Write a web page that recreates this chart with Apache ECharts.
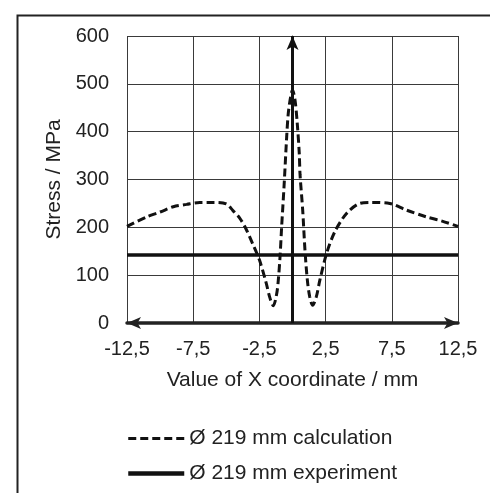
<!DOCTYPE html>
<html>
<head>
<meta charset="utf-8">
<script src="https://cdn.jsdelivr.net/npm/echarts@6/dist/echarts.min.js"></script>
<style>html,body{margin:0;padding:0;background:#fff}#c{width:490px;height:493px}</style>
</head>
<body>
<div id="c"></div>
<script>
// Calculation curve (dashed)
const calcX = [-12.5,-11,-10,-9,-8,-7,-6,-5,-4.5,-4,-3.5,-3,-2.5,-2,-1.7,-1.45,-1.2,-1.07,-0.94,-0.82,-0.64,-0.44,-0.32,-0.14,0,0.19,0.36,0.51,0.57,0.77,0.94,1.12,1.3,1.52,1.8,2.07,2.58,3.2,4.08,5.09,6,7.35,8.6,10.1,11.3,12.5];
const calcY = [202,222,232,243,248,252,252,249,235,220,196,165,132,85,52,36,60,90,139,201,285,389,438,473,487,466,417,355,310,236,153,90,55,37,55,90,146,191,229,250,252,250,236,222,213,202];
// Experiment (solid): horizontal level and vertical marker at x = 0
const expX = [-12.5, 12.5];
const expY = [142, 142];
const expMarkX = [0, 0];
const expMarkY = [0, 600];
const xTicks = [-12.5,-7.5,-2.5,2.5,7.5,12.5];
const yTicks = [0,100,200,300,400,500,600];
const seriesNames = ['Ø 219 mm calculation', 'Ø 219 mm experiment'];

const font = 'Liberation Sans, Arial, sans-serif';
const chart = echarts.init(document.getElementById('c'), null, {renderer: 'canvas'});
chart.setOption({
  animation: false,
  backgroundColor: '#fff',
  graphic: [{
    type: 'rect', left: 15, top: 13, silent: true,
    shape: {width: 500, height: 500},
    style: {fill: 'none', stroke: '#222', lineWidth: 2}
  }],
  grid: {left: 127, right: 32, top: 36, bottom: 170},
  legend: {
    orient: 'vertical', left: 121, top: 423, itemGap: 14,
    itemWidth: 56, itemHeight: 14,
    itemStyle: {opacity: 0},
    textStyle: {fontFamily: font, fontSize: 21, color: '#222'},
    data: [
      {name: seriesNames[0], lineStyle: {width: 3, type: [8,4], color: '#111'}},
      {name: seriesNames[1], lineStyle: {width: 4.5, type: 'solid', color: '#111'}}
    ]
  },
  xAxis: {
    type: 'value', min: xTicks[0], max: xTicks[xTicks.length-1], interval: 5,
    name: 'Value of X coordinate / mm', nameLocation: 'middle', nameGap: 47,
    nameTextStyle: {fontFamily: font, fontSize: 21, color: '#222'},
    axisLine: {onZero: false, lineStyle: {color: '#222', width: 3.5}, symbol: ['arrow','arrow'], symbolSize: [9,14]},
    axisTick: {show: false},
    axisLabel: {fontFamily: font, fontSize: 20, color: '#222', margin: 16,
      formatter: v => String(v).replace('.', ',')},
    splitLine: {show: true, lineStyle: {color: '#3a3a3a', width: 1}}
  },
  yAxis: {
    type: 'value', min: yTicks[0], max: yTicks[yTicks.length-1], interval: 100,
    name: 'Stress / MPa', nameLocation: 'middle', nameGap: 58,
    nameTextStyle: {fontFamily: font, fontSize: 21, color: '#222'},
    axisLine: {show: true, lineStyle: {color: '#333', width: 1}},
    axisTick: {show: false},
    axisLabel: {fontFamily: font, fontSize: 20, color: '#222', margin: 18},
    splitLine: {show: true, lineStyle: {color: '#3a3a3a', width: 1}}
  },
  series: [
    {
      name: seriesNames[0], type: 'line', showSymbol: false, symbol: 'none',
      smooth: 0.3, z: 3,
      lineStyle: {color: '#111', width: 3, type: [8,4]},
      itemStyle: {color: '#111'},
      data: calcX.map((x, i) => [x, calcY[i]])
    },
    {
      name: seriesNames[1], type: 'line', showSymbol: false, symbol: 'none', z: 4,
      lineStyle: {color: '#111', width: 3.5},
      itemStyle: {color: '#111'},
      data: expX.map((x, i) => [x, expY[i]]),
      markLine: {
        silent: true, symbol: ['none','arrow'], symbolSize: [9,14],
        label: {show: false},
        lineStyle: {color: '#111', width: 3, type: 'solid'},
        data: [[{coord: [expMarkX[0], expMarkY[0]]}, {coord: [expMarkX[1], expMarkY[1]]}]]
      }
    }
  ]
});
</script>
</body>
</html>
